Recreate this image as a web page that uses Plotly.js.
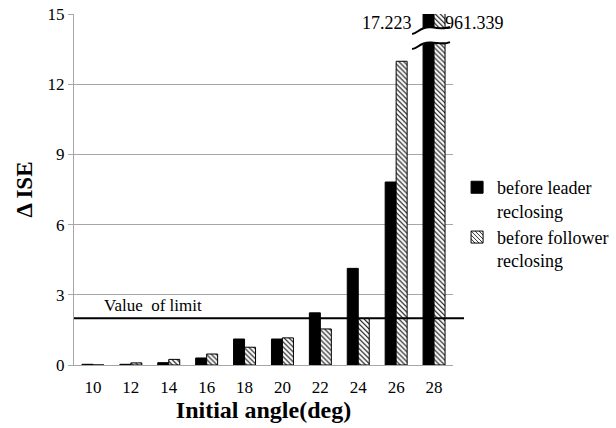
<!DOCTYPE html>
<html>
<head>
<meta charset="utf-8">
<script src="https://cdn.plot.ly/plotly-3.0.1.min.js"></script>
<style>html,body{margin:0;padding:0;background:#fff;}#chart{width:616px;height:428px;}</style>
</head>
<body>
<div id="chart"></div>
<script>
const angles = ['10','12','14','16','18','20','22','24','26','28'];
const leader = [0.03, 0.03, 0.1, 0.3, 1.11, 1.11, 2.23, 4.13, 7.82, 17.223];
const follower = [0.0, 0.09, 0.24, 0.47, 0.76, 1.16, 1.54, 1.99, 12.98, 961.339];
const limitValue = 2;
const yTicks = [0, 3, 6, 9, 12, 15];
const yMax = 15;

const FONT = 'Liberation Serif, serif';

const traces = [
  {
    type: 'bar', x: angles, y: leader, name: 'before leader<br>reclosing',
    marker: {color: '#000', line: {color: '#000', width: 1}},
    hoverinfo: 'none', cliponaxis: true
  },
  {
    type: 'bar', x: angles, y: follower, name: 'before follower<br>reclosing',
    marker: {color: '#fff', line: {color: '#000', width: 1},
      pattern: {shape: '\\', fgcolor: '#000', bgcolor: '#fff', size: 3.5, solidity: 0.3}},
    hoverinfo: 'none', cliponaxis: true
  }
];

const last = angles.length - 1;
const bx0 = 0.892, bx1 = 0.992;
function wave(y, d) {
  const w = bx1 - bx0;
  return `M ${bx0},${y - d} C ${bx0 + w*0.15},${y - d} ${bx0 + w*0.2},${y + d*0.6} ${bx0 + w*0.5},${y + d*0.4} S ${bx0 + w*0.85},${y} ${bx1},${y + d*0.5}`;
}
function waveRev(y, d) {
  const w = bx1 - bx0;
  return `L ${bx1},${y + d*0.5} C ${bx0 + w*0.85},${y} ${bx0 + w*0.7},${y + d*0.4} ${bx0 + w*0.5},${y + d*0.4} S ${bx0 + w*0.15},${y - d} ${bx0},${y - d}`;
}
const yTop = 14.35, yBot = 13.7, dd = 0.2;
const fillPath = wave(yTop, dd) + ' ' + waveRev(yBot, dd) + ' Z';

const layout = {
  width: 616, height: 428,
  margin: {l: 74, r: 163, t: 14, b: 63},
  paper_bgcolor: '#fff', plot_bgcolor: '#fff',
  font: {family: FONT, color: '#000', size: 17},
  barmode: 'group', bargap: 0.42, bargroupgap: 0,
  showlegend: true,
  legend: {xref: 'container', yref: 'container', x: 0.742, y: 0.605, xanchor: 'left', yanchor: 'top',
    valign: 'top',
    font: {family: FONT, size: 18, color: '#000'}, tracegroupgap: 4,
    bgcolor: 'rgba(0,0,0,0)'},
  xaxis: {
    type: 'category', range: [-0.5, last + 0.5], autorange: false, automargin: false,
    showgrid: false, showline: true, linecolor: '#a6a6a6', linewidth: 1,
    ticks: '', tickfont: {family: FONT, size: 17}, ticklabelstandoff: 7,
    title: {text: '<b>Initial angle(deg)</b>', font: {family: FONT, size: 24}, standoff: 4}
  },
  yaxis: {
    range: [0, yMax], autorange: false, automargin: false, tickvals: yTicks, ticktext: yTicks.map(String),
    showgrid: true, gridcolor: '#a6a6a6', gridwidth: 1, zeroline: false,
    showline: true, linecolor: '#a6a6a6', linewidth: 1,
    ticks: 'outside', ticklen: 5, tickcolor: '#a6a6a6',
    tickfont: {family: FONT, size: 17},
    title: {text: '<b>Δ ISE</b>', font: {family: FONT, size: 23}, standoff: 8}
  },
  shapes: [
    {type: 'line', xref: 'paper', yref: 'y', x0: 0, x1: 1.029, y0: limitValue, y1: limitValue,
      line: {color: '#000', width: 2}},
    {type: 'path', xref: 'paper', yref: 'y', path: fillPath, fillcolor: '#fff', line: {width: 0}},
    {type: 'path', xref: 'paper', yref: 'y', path: wave(yTop, dd), line: {color: '#000', width: 2}},
    {type: 'path', xref: 'paper', yref: 'y', path: wave(yBot, dd), line: {color: '#000', width: 2}}
  ],
  annotations: [
    {xref: 'paper', yref: 'y', x: 0.075, y: limitValue, xanchor: 'left', yanchor: 'bottom',
      yshift: 1, text: 'Value&nbsp; of limit', showarrow: false, font: {family: FONT, size: 17}},
    {xref: 'x', yref: 'y', x: last, y: yMax, xanchor: 'right', yanchor: 'top', xshift: -20, yshift: 3,
      text: leader[last].toFixed(3), showarrow: false, font: {family: FONT, size: 18}},
    {xref: 'x', yref: 'y', x: last, y: yMax, xanchor: 'left', yanchor: 'top', xshift: 9, yshift: 3,
      text: follower[last].toFixed(3), showarrow: false, font: {family: FONT, size: 18}}
  ]
};

Plotly.newPlot('chart', traces, layout, {staticPlot: true, displayModeBar: false});
</script>
</body>
</html>
